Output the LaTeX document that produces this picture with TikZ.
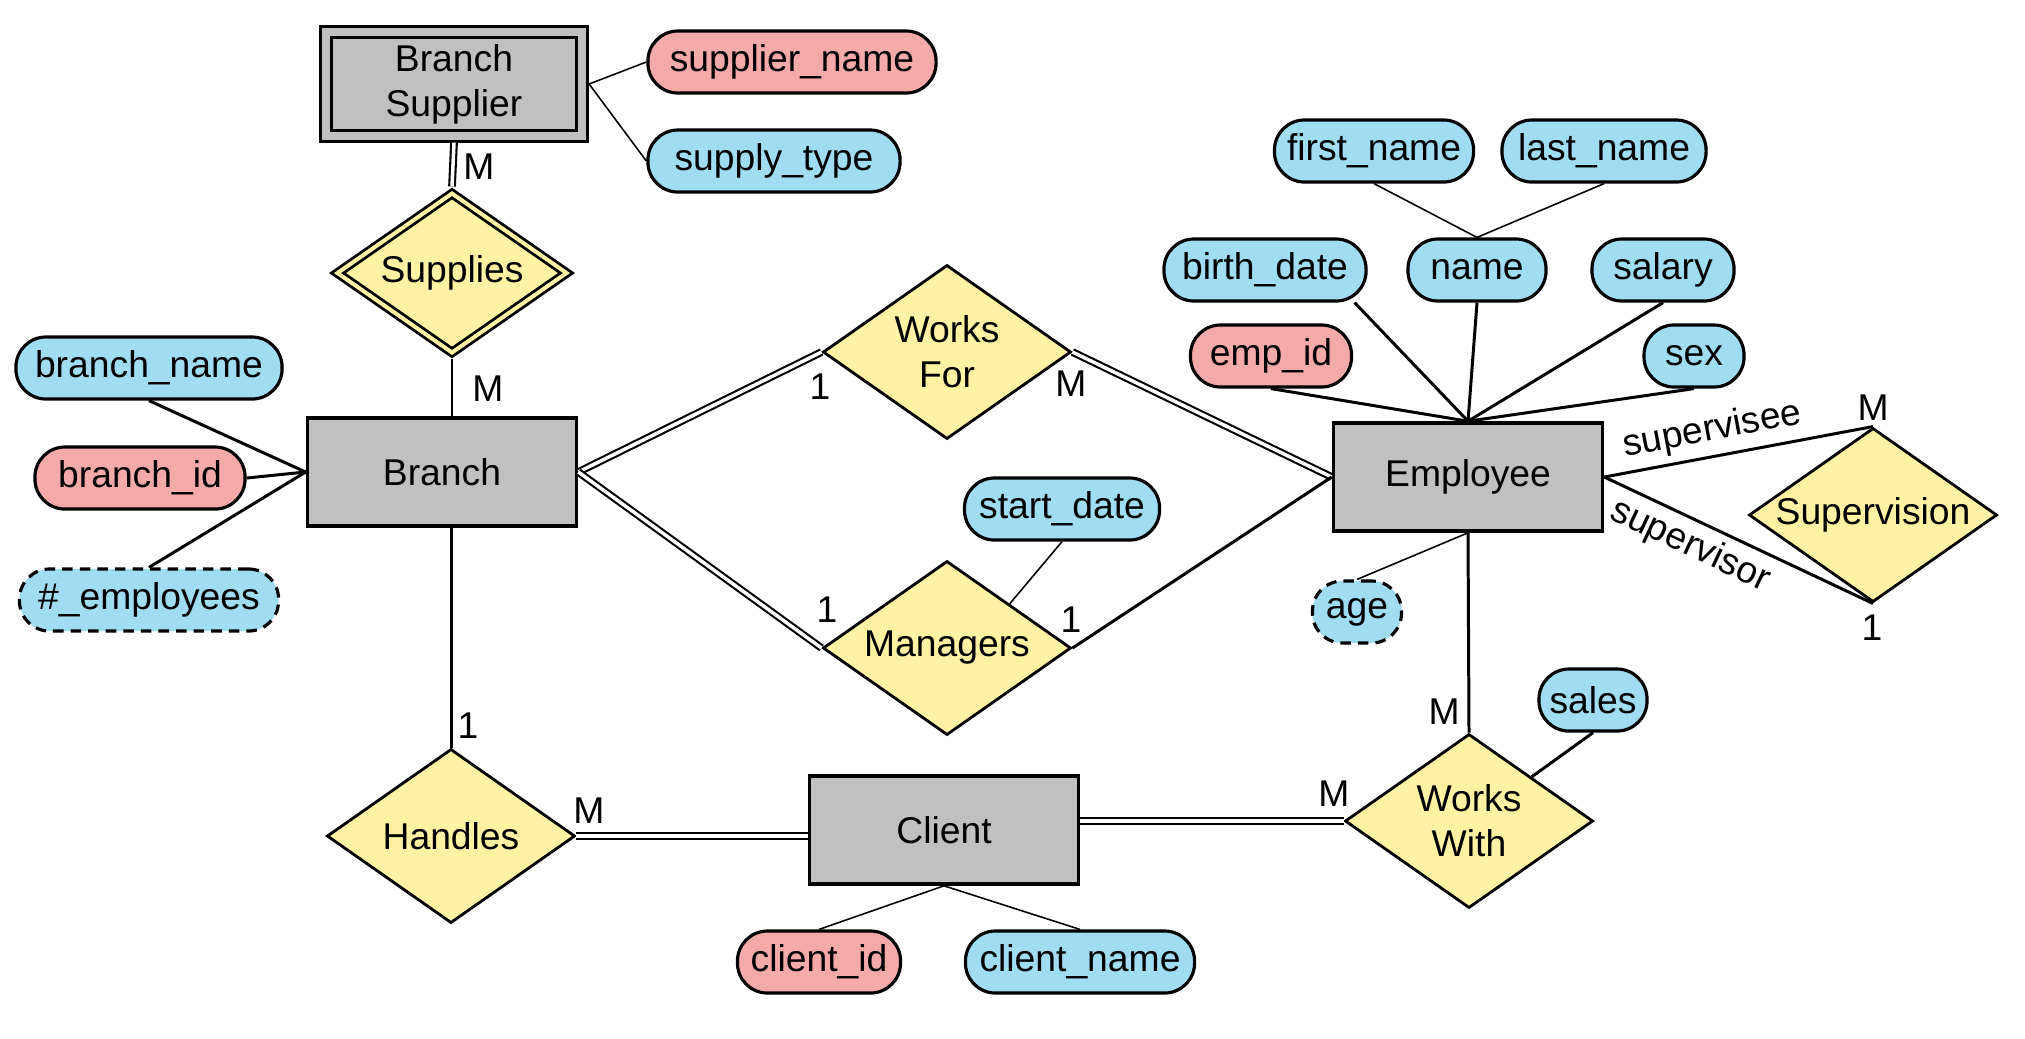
\documentclass[tikz,border=0pt]{standalone}
\usepackage{fontspec}
\setmainfont{Liberation Sans}
\usetikzlibrary{shapes.geometric}
\definecolor{entgray}{RGB}{192,192,192}
\definecolor{relyellow}{RGB}{255,243,163}
\definecolor{attrblue}{RGB}{160,221,242}
\definecolor{keypink}{RGB}{245,170,170}

\begin{document}
\begin{tikzpicture}[
x=0.01cm, y=-0.01cm,
font=\fontsize{10.6}{12.8}\selectfont,
entity/.style={
  draw,
  rectangle,
  fill=entgray,
  line width=1pt,
  minimum width=2.69cm,
  minimum height=1.08cm,
  align=center
  },
weakentity/.style={
  entity,
  double=entgray,
  double distance=0.08cm,
  line width=0.85pt,
  outer sep=2pt,
  minimum width=2.56cm,
  minimum height=0.93cm
  },
rel/.style={
  draw,
  diamond,
  aspect=1.43,
  fill=relyellow,
  line width=0.8pt,
  inner sep=0pt,
  minimum width=2.48cm,
  minimum height=1.74cm,
  align=center
  },
weakrel/.style={
  rel,
  double=relyellow,
  double distance=0.04cm,
  outer sep=1.4pt,
  minimum width=2.33cm,
  minimum height=1.63cm
  },
attr/.style={
  draw,
  rectangle,
  rounded corners=0.3cm,
  fill=attrblue,
  line width=0.9pt,
  minimum height=0.62cm,
  inner sep=0pt
  },
key/.style={attr, fill=keypink},
derived/.style={attr, dash pattern=on 3pt off 2pt},
card/.style={inner sep=0pt},
role/.style={sloped, inner sep=2pt},
link/.style={line width=0.85pt},
thin/.style={line width=0.45pt},
dbl/.style={double, line width=0.6pt, double distance=1pt}
]
\useasboundingbox (0,0) rectangle (2025,1038);

\node[weakentity] (bsup) at (454,84) {Branch\\Supplier};
\node[weakrel] (supplies) at (452,273) {Supplies};
\node[entity] (branch) at (442,472) {Branch};
\node[rel] (worksfor) at (947,352) {Works\\For};
\node[rel] (managers) at (947,648) {Managers};
\node[rel] (handles) at (451,836) {Handles};
\node[entity] (client) at (944,830) {Client};
\node[entity] (employee) at (1468,477) {Employee};
\node[rel] (workswith) at (1469,821) {Works\\With};
\node[rel] (superv) at (1873,515) {Supervision};

\node[key, minimum width=2.88cm] (supname) at (792,62) {supplier\_name};
\node[attr, minimum width=2.52cm] (suptype) at (774,161) {supply\_type};
\node[attr, minimum width=2.66cm] (brname) at (149,368) {branch\_name};
\node[key, minimum width=2.10cm] (brid) at (140,478) {branch\_id};
\node[derived, minimum width=2.59cm] (nemp) at (149,600) {\#\_employees};
\node[attr, minimum width=1.99cm] (fname) at (1374,151) {first\_name};
\node[attr, minimum width=2.04cm] (lname) at (1604,151) {last\_name};
\node[attr, minimum width=2.02cm] (bdate) at (1265,270) {birth\_date};
\node[attr, minimum width=1.38cm] (ename) at (1477,270) {name};
\node[attr, minimum width=1.42cm] (salary) at (1663,270) {salary};
\node[key, minimum width=1.61cm] (empid) at (1271,356) {emp\_id};
\node[attr, minimum width=1.00cm] (sex) at (1694,356) {sex};
\node[attr, minimum width=1.95cm] (sdate) at (1062,509) {start\_date};
\node[derived, minimum width=0.89cm] (age) at (1357,612) {age};
\node[attr, minimum width=1.08cm] (sales) at (1593,700) {sales};
\node[key, minimum width=1.63cm] (clid) at (819,962) {client\_id};
\node[attr, minimum width=2.29cm] (clname) at (1080,962) {client\_name};

\draw[thin] (bsup.east) -- (supname.west);
\draw[thin] (bsup.east) -- (suptype.west);
\draw[dbl] (bsup.south) -- (supplies.north);
\draw[thin] (supplies.south) -- (supplies.south |- branch.north);
\foreach \a in {brname.south, brid.east, nemp.north}
  \draw[link] (\a) -- (branch.west);
\draw[dbl] (branch.east) -- (worksfor.west);
\draw[dbl] (branch.east) -- (managers.west);
\draw[dbl] (worksfor.east) -- (employee.west);
\draw[link] (managers.east) -- (employee.west);
\draw[thin] (sdate.south) -- (managers.north east);
\draw[link] (handles.north |- branch.south) -- (handles.north);
\draw[dbl] (handles.east) -- (handles.east -| client.west);
\draw[dbl] (workswith.west -| client.east) -- (workswith.west);
\draw[link] (employee.south) -- (workswith.north);
\draw[link] (sales.south) -- (workswith.north east);
\foreach \a in {clid, clname}
  \draw[thin] (client.south) -- (\a.north);
\foreach \a in {empid.south, bdate.-20, ename.south, salary.south, sex.south}
  \draw[link] (\a) -- (employee.north);
\foreach \a in {fname, lname}
  \draw[thin] (\a.south) -- (ename.north);
\draw[thin] (age.north) -- (employee.south);
\draw[link] (employee.east) -- node[role, above, pos=.42] (lsee) {supervisee} (superv.north);
\draw[link] (employee.east) -- node[role, below, pos=.36] (lsor) {supervisor} (superv.south);

\foreach \x/\y/\t [count=\i] in {479/167/M, 488/389/M, 820/387/1, 1071/384/M,
  827/610/1, 1071/620/1, 468/726/1, 589/811/M, 1334/794/M, 1444/712/M,
  1873/408/M, 1872/628/1}
  \node[card] (card\i) at (\x,\y) {\t};

\end{tikzpicture}
\end{document}
